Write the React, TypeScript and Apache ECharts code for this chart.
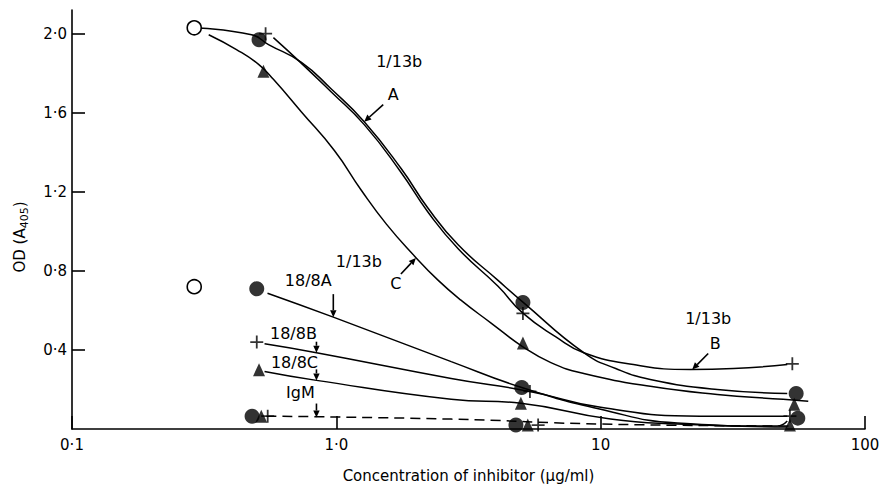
import React, { useEffect, useRef } from 'react';
import * as echarts from 'echarts';

const FONT = 'DejaVu Sans';

// ---- axis ticks ----
const xTickLabels = ['0·1', '1·0', '10', '100'];
const yTickValues = [0.4, 0.8, 1.2, 1.6, 2.0];
const yTickLabels = ['0·4', '0·8', '1·2', '1·6', '2·0'];

// ---- plotted markers (concentration µg/ml, OD A405) ----
const controlX = [0.29, 0.29];
const controlY = [2.03, 0.72];

const a13AX = [0.51, 5.08, 54.9];
const a13AY = [1.97, 0.64, 0.18];
const a13BX = [0.54, 5.08, 53.1];
const a13BY = [2.0, 0.585, 0.33];
const a13CX = [0.53, 5.08, 54.0];
const a13CY = [1.81, 0.435, 0.125];

const b18AX = [0.5, 5.03, 55.7];
const b18AY = [0.71, 0.21, 0.055];
const b18BX = [0.5, 5.4, 52.0];
const b18BY = [0.44, 0.19, 0.065];
const b18CX = [0.51, 4.99, 52.0];
const b18CY = [0.3, 0.13, 0.02];

const igmCircleX = [0.48, 4.78];
const igmCircleY = [0.065, 0.02];
const igmTriX = [0.52, 5.3];
const igmTriY = [0.065, 0.02];
const igmPlusX = [0.55, 5.8];
const igmPlusY = [0.065, 0.02];

// ---- fitted curves ----
const curveAX = [0.291, 0.478, 0.554, 0.738, 0.957, 1.275, 1.758, 2.22, 2.89, 4.09, 5.08, 8.63, 11.4, 15.4, 27.6, 50.8];
const curveAY = [2.03, 1.995, 1.945, 1.855, 1.72, 1.555, 1.318, 1.118, 0.932, 0.752, 0.642, 0.386, 0.306, 0.251, 0.2, 0.18];

const curveBX = [0.578, 0.738, 0.957, 1.275, 1.758, 2.22, 2.89, 4.09, 5.08, 6.77, 8.63, 13.3, 21.9, 31.8, 50.8];
const curveBY = [1.98, 1.85, 1.705, 1.54, 1.298, 1.098, 0.912, 0.722, 0.586, 0.466, 0.386, 0.326, 0.301, 0.306, 0.326];

const curveCX = [0.329, 0.419, 0.508, 0.578, 0.738, 0.983, 1.243, 1.544, 1.97, 2.43, 2.96, 3.85, 5.08, 6.48, 8.63, 15.4, 27.6, 49.0, 61.0];
const curveCY = [1.995, 1.92, 1.845, 1.769, 1.604, 1.409, 1.208, 1.038, 0.877, 0.752, 0.652, 0.536, 0.416, 0.336, 0.281, 0.216, 0.175, 0.15, 0.14];

const curve18AX = [0.549, 0.974, 2.72, 5.03, 10.0, 19.5, 46.5, 50.8];
const curve18AY = [0.687, 0.566, 0.341, 0.21, 0.1, 0.03, 0.015, 0.04];

const curve18BX = [0.535, 0.841, 2.72, 5.4, 10.0, 23.8, 50.8];
const curve18BY = [0.431, 0.386, 0.256, 0.19, 0.11, 0.065, 0.065];

const curve18CX = [0.535, 0.841, 2.72, 4.99, 10.9, 19.5, 50.8];
const curve18CY = [0.291, 0.246, 0.15, 0.13, 0.05, 0.025, 0.01];

const curveIgMX = [0.544, 2.72, 10.0, 52.0];
const curveIgMY = [0.065, 0.05, 0.025, 0.015];

// ---- annotations: arrow tips in data coordinates ----
const annotTipX = [1.275, 2.0, 22.2, 0.974, 0.841, 0.841, 0.841];
const annotTipY = [1.555, 0.865, 0.301, 0.566, 0.386, 0.246, 0.058];

const zip = (xs: number[], ys: number[]) => xs.map((x, i) => [x, ys[i]]);

const PLUS = 'path://M6 0V12M0 6H12';

function curve(name: string, xs: number[], ys: number[], dashed = false) {
  return {
    name,
    type: 'line',
    data: zip(xs, ys),
    smooth: 0.5,
    showSymbol: false,
    symbol: 'none',
    silent: true,
    z: 2,
    lineStyle: { color: '#000', width: 1.5, type: dashed ? [10, 6] : 'solid' },
  };
}

function marks(name: string, xs: number[], ys: number[], kind: string) {
  const base: any = { name, type: 'scatter', data: zip(xs, ys), silent: true, z: 4 };
  if (kind === 'circle') {
    base.symbol = 'circle';
    base.symbolSize = 15;
    base.itemStyle = { color: '#000' };
  } else if (kind === 'open') {
    base.symbol = 'circle';
    base.symbolSize = 14;
    base.itemStyle = { color: '#fff', borderColor: '#000', borderWidth: 1.6, opacity: 1 };
  } else if (kind === 'tri') {
    base.symbol = 'triangle';
    base.symbolSize = [12, 13];
    base.itemStyle = { color: '#000' };
  } else {
    base.symbol = PLUS;
    base.symbolSize = 13;
    base.itemStyle = { color: 'none', borderColor: '#000', borderWidth: 1.8 };
  }
  return base;
}

export default function App() {
  const ref = useRef<HTMLDivElement>(null);

  useEffect(() => {
    if (!ref.current) return;
    const chart = echarts.init(ref.current, null, { renderer: 'svg' });
    const option: any = {
      animation: false,
      backgroundColor: '#fff',
      textStyle: { fontFamily: FONT },
      grid: { left: 72, right: 23, top: 10, bottom: 55, containLabel: false },
      xAxis: {
        type: 'log',
        logBase: 10,
        min: 0.1,
        max: 100,
        name: 'Concentration of inhibitor (μg/ml)',
        nameLocation: 'middle',
        nameGap: 39,
        nameTextStyle: { color: '#000', fontSize: 15, fontFamily: FONT },
        axisLine: { show: true, lineStyle: { color: '#000', width: 1.6 } },
        axisTick: { show: true, inside: true, length: 13, lineStyle: { color: '#000', width: 1.6 } },
        minorTick: { show: false },
        splitLine: { show: false },
        axisLabel: {
          color: '#000',
          fontSize: 15,
          fontFamily: FONT,
          margin: 8,
          formatter: (v: number) => xTickLabels[Math.round(Math.log10(v)) + 1] ?? '',
        },
      },
      yAxis: {
        type: 'value',
        min: 0,
        max: 2.12,
        axisLine: { show: true, lineStyle: { color: '#000', width: 1.6 } },
        axisTick: {
          show: true,
          inside: true,
          length: 13,
          customValues: yTickValues,
          lineStyle: { color: '#000', width: 1.6 },
        },
        splitLine: { show: false },
        axisLabel: {
          color: '#000',
          fontSize: 15,
          fontFamily: FONT,
          margin: 5,
          customValues: yTickValues,
          formatter: (v: number) => {
            const i = yTickValues.findIndex((t) => Math.abs(t - v) < 1e-6);
            return i >= 0 ? yTickLabels[i] : '';
          },
        },
      },
      series: [
        curve('1/13b A', curveAX, curveAY),
        curve('1/13b B', curveBX, curveBY),
        curve('1/13b C', curveCX, curveCY),
        curve('18/8A', curve18AX, curve18AY),
        curve('18/8B', curve18BX, curve18BY),
        curve('18/8C', curve18CX, curve18CY),
        curve('IgM', curveIgMX, curveIgMY, true),
        marks('control', controlX, controlY, 'open'),
        marks('1/13b A pts', a13AX, a13AY, 'circle'),
        marks('1/13b B pts', a13BX, a13BY, 'plus'),
        marks('1/13b C pts', a13CX, a13CY, 'tri'),
        marks('18/8A pts', b18AX, b18AY, 'circle'),
        marks('18/8B pts', b18BX, b18BY, 'plus'),
        marks('18/8C pts', b18CX, b18CY, 'tri'),
        marks('IgM circle', igmCircleX, igmCircleY, 'circle'),
        marks('IgM tri', igmTriX, igmTriY, 'tri'),
        marks('IgM plus', igmPlusX, igmPlusY, 'plus'),
      ],
    };
    chart.setOption(option);

    // annotation layout (pixel offsets from arrow tip)
    const layout = [
      { tail: [19, -17], texts: [{ t: 'A', d: [29, -27] }, { t: '1/13b', d: [35, -60] }] },
      { tail: [-15, 16], texts: [{ t: 'C', d: [-20, 25] }, { t: '1/13b', d: [-57, 3] }] },
      { tail: [16, -16], texts: [{ t: 'B', d: [23, -26] }, { t: '1/13b', d: [16, -51] }] },
      { tail: [0, -23], texts: [{ t: '18/8A', d: [-25, -37] }] },
      { tail: [0, -11], texts: [{ t: '18/8B', d: [-23, -19] }] },
      { tail: [0, -11], texts: [{ t: '18/8C', d: [-22, -18] }] },
      { tail: [0, -14], texts: [{ t: 'IgM', d: [-16, -25] }] },
    ];
    const graphics: any[] = [];
    layout.forEach((L, i) => {
      const p = chart.convertToPixel({ gridIndex: 0 } as any, [annotTipX[i], annotTipY[i]]) as number[];
      if (!p) return;
      const [tx, ty] = p;
      const sx = tx + L.tail[0];
      const sy = ty + L.tail[1];
      const dx = tx - sx;
      const dy = ty - sy;
      const len = Math.hypot(dx, dy) || 1;
      const ux = dx / len;
      const uy = dy / len;
      const hl = 7;
      const hw = 3.2;
      const bx = tx - ux * hl;
      const by = ty - uy * hl;
      graphics.push({
        type: 'line',
        silent: true,
        shape: { x1: sx, y1: sy, x2: bx, y2: by },
        style: { stroke: '#000', lineWidth: 1.6 },
        z: 10,
      });
      graphics.push({
        type: 'polygon',
        silent: true,
        shape: {
          points: [
            [tx, ty],
            [bx - uy * hw, by + ux * hw],
            [bx + uy * hw, by - ux * hw],
          ],
        },
        style: { fill: '#000' },
        z: 10,
      });
      L.texts.forEach((T) => {
        graphics.push({
          type: 'text',
          silent: true,
          x: tx + T.d[0],
          y: ty + T.d[1],
          style: {
            text: T.t,
            fill: '#000',
            font: `16px "${FONT}"`,
            align: 'center',
            verticalAlign: 'middle',
          },
          z: 10,
        });
      });
    });
    // y axis title with subscript
    graphics.push({
      type: 'text',
      silent: true,
      x: 20,
      y: 237,
      rotation: Math.PI / 2,
      style: {
        text: 'OD (A{s|405})',
        fill: '#000',
        font: `15px "${FONT}"`,
        fontSize: 15,
        fontFamily: FONT,
        align: 'center',
        verticalAlign: 'middle',
        lineHeight: 20,
        rich: {
          s: { fontSize: 11, fontFamily: FONT, fill: '#000', verticalAlign: 'bottom', lineHeight: 14 },
        },
      },
      z: 10,
    });
    chart.setOption({ graphic: graphics });

    return () => {
      chart.dispose();
    };
  }, []);

  return (
    <div
      ref={ref}
      style={{ position: 'fixed', left: 0, top: 0, width: 888, height: 488, background: '#fff' }}
    />
  );
}
